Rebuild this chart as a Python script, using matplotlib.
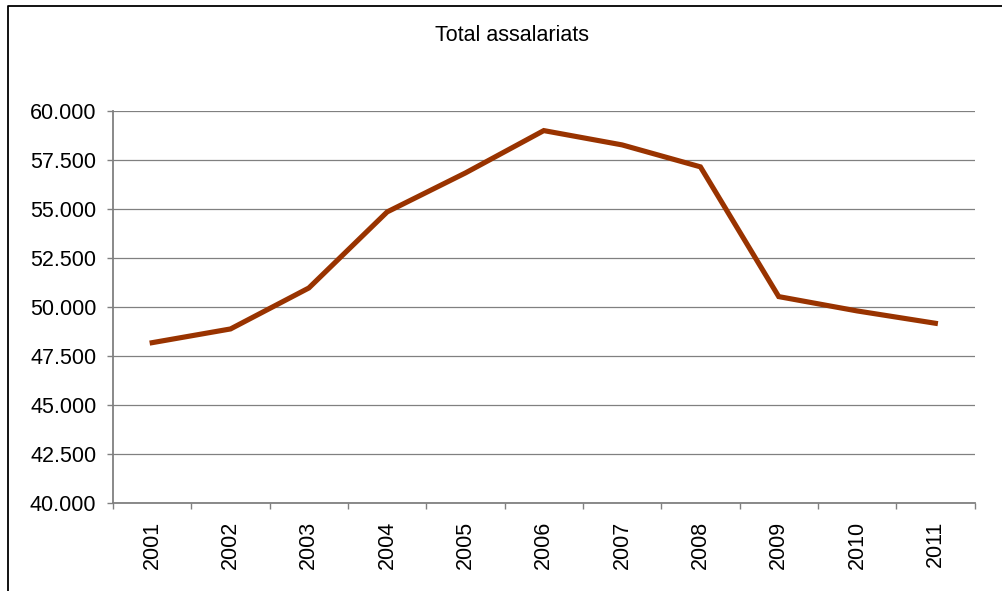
import matplotlib
matplotlib.use("Agg")
from matplotlib import pyplot as plt
from matplotlib.ticker import FuncFormatter, FixedLocator
from matplotlib.lines import Line2D

plt.rcParams['font.family'] = ['Liberation Sans', 'DejaVu Sans']

years = ["2001", "2002", "2003", "2004", "2005", "2006", "2007", "2008", "2009", "2010", "2011"]
assalariats = [48180, 48880, 50970, 54850, 56840, 59000, 58270, 57150, 50530, 49800, 49170]
titleText = "Total assalariats"

gridColor = "#808080"

fig = plt.figure(figsize=(10.03, 5.91), dpi=100)
ax = fig.add_axes([0.1127, 0.1489, 0.9716 - 0.1127, 0.8122 - 0.1489])

xPos = list(range(len(years)))
ax.plot(xPos, assalariats, color="#993300", linewidth=3.7, solid_joinstyle="miter", zorder=3)

ax.set_ylim(40000, 60000)
ax.set_yticks(range(40000, 60001, 2500))
ax.yaxis.set_major_formatter(FuncFormatter(lambda v, p: "{:,.0f}".format(v).replace(",", ".")))
ax.grid(axis="y", color=gridColor, linewidth=0.9)
ax.set_axisbelow(True)

ax.set_xlim(-0.5, len(years) - 0.5)
ax.set_xticks(xPos)
ax.set_xticklabels(years, rotation=90)
ax.xaxis.set_minor_locator(FixedLocator([i - 0.5 for i in range(len(years) + 1)]))
ax.tick_params(axis="x", which="major", length=0, pad=13, labelsize=15.5)
ax.tick_params(axis="x", which="minor", length=4, width=1, color=gridColor, direction="out")
ax.tick_params(axis="y", length=4, width=1, color=gridColor, pad=8, labelsize=15.5)

for side in ["top", "right"]:
    ax.spines[side].set_visible(False)
for side in ["left", "bottom"]:
    ax.spines[side].set_color(gridColor)
    ax.spines[side].set_linewidth(1.3)

fig.text(0.51, 0.94, titleText, ha="center", va="center", fontsize=15.5)

# chart area frame (only left and top edges visible in the crop)
bx = 8.5 / 1003
by = 1 - 5.5 / 591
fig.add_artist(Line2D([bx, bx, 1.0], [0.0, by, by], transform=fig.transFigure, color="black", linewidth=1.3))

fig.savefig("out.png", dpi=100)
